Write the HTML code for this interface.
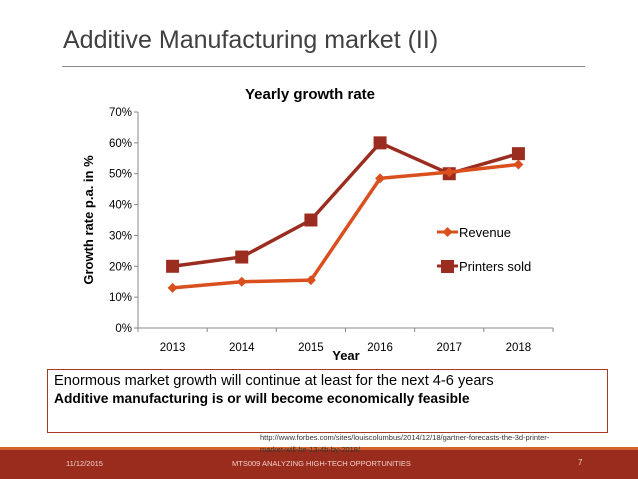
<!DOCTYPE html>
<html><head><meta charset="utf-8"><style>
html,body{margin:0;padding:0;background:#fff;}
body{width:638px;height:479px;position:relative;overflow:hidden;font-family:"Liberation Sans",sans-serif;}
.abs{position:absolute;}
</style></head><body>
<div class="abs" style="left:63px;top:26px;font-size:25px;color:#404040;letter-spacing:0px;white-space:nowrap;">Additive Manufacturing market (II)</div>
<div class="abs" style="left:62px;top:66px;width:523px;height:1px;background:#888;"></div>

<svg class="abs" style="left:0;top:0" width="638" height="479">
  <text x="310" y="99" text-anchor="middle" font-size="15" font-weight="bold" fill="#000" font-family="Liberation Sans">Yearly growth rate</text>
  <g id="axes"></g>
  <g id="marks"></g>
  <text transform="translate(93,220) rotate(-90)" text-anchor="middle" font-size="13" font-weight="bold" font-family="Liberation Sans">Growth rate p.a. in %</text>
  <text x="346" y="360" text-anchor="middle" font-size="13" font-weight="bold" font-family="Liberation Sans">Year</text>
  <g>
    <g>
      <line x1="437" y1="232" x2="458" y2="232" stroke="#d9501e" stroke-width="3"/>
      <path d="M447.5 227 L452.5 232 L447.5 237 L442.5 232 Z" fill="#d9501e"/>
      <text x="459" y="237" font-size="13" font-family="Liberation Sans">Revenue</text>
    </g>
    <g>
      <line x1="437" y1="266" x2="458" y2="266" stroke="#9b2d20" stroke-width="3"/>
      <rect x="441" y="260" width="13" height="13" fill="#9b2d20"/>
      <text x="459" y="271" font-size="13" font-family="Liberation Sans">Printers sold</text>
    </g>
  </g>
</svg>

<div class="abs" style="left:47px;top:369px;width:559px;height:62px;border:1px solid #a33a2a;"></div>
<div class="abs" style="left:54px;top:373px;font-size:14.6px;white-space:nowrap;">Enormous market growth will continue at least for the next 4-6 years</div>
<div class="abs" style="left:54px;top:391px;font-size:13.8px;font-weight:bold;white-space:nowrap;">Additive manufacturing is or will become economically feasible</div>
<div class="abs" style="left:0;top:447px;width:638px;height:3px;background:#d4622f;"></div>
<div class="abs" style="left:0;top:450px;width:638px;height:29px;background:#9a2c1e;"></div>
<div class="abs" style="left:260px;top:432px;font-size:7.5px;line-height:12px;color:#333;width:350px;z-index:2;">http://www.forbes.com/sites/louiscolumbus/2014/12/18/gartner-forecasts-the-3d-printer-<br>market-will-be-13-4b-by-2018/</div>
<div class="abs" style="left:66px;top:459px;font-size:7.5px;color:#f0d0c8;">11/12/2015</div>
<div class="abs" style="left:232px;top:459px;font-size:7.5px;color:#f0d0c8;white-space:nowrap;">MTS009 ANALYZING HIGH-TECH OPPORTUNITIES</div>
<div class="abs" style="left:578px;top:458px;font-size:8px;color:#f0d0c8;">7</div>

<script>
const categories = ["2013","2014","2015","2016","2017","2018"];
const revenue = [13, 15, 15.5, 48.5, 50.5, 53];
const printersSold = [20, 23, 35, 60, 50, 56.5];
const yTicks = [0,10,20,30,40,50,60,70];

const NS = "http://www.w3.org/2000/svg";
const x0 = 138, x1 = 553, yB = 328, yT = 112;
const xBand = (x1 - x0) / categories.length;
const xs = i => x0 + xBand * (i + 0.5);
const ys = v => yB - (v / 70) * (yB - yT);
const axes = document.getElementById('axes');
const marks = document.getElementById('marks');
function el(tag, attrs, parent){const e=document.createElementNS(NS,tag);for(const k in attrs)e.setAttribute(k,attrs[k]);parent.appendChild(e);return e;}

const yAxis = el('line',{x1:x0,y1:yT,x2:x0,y2:yB,stroke:'#888','stroke-width':1},axes);


const xAxis = el('line',{x1:x0,y1:yB,x2:x1,y2:yB,stroke:'#888','stroke-width':1},axes);


yTicks.forEach(t=>{
  el('line',{x1:x0-4,y1:ys(t),x2:x0,y2:ys(t),stroke:'#888'},axes);
  const tx = el('text',{x:x0-6,y:ys(t)+4,'text-anchor':'end','font-size':11.5,'font-family':'Liberation Sans'},axes);
  tx.textContent = t + '%';
  
  
});
for(let i=0;i<=categories.length;i++){
  el('line',{x1:x0+xBand*i,y1:yB,x2:x0+xBand*i,y2:yB+4,stroke:'#888'},axes);
}
categories.forEach((c,i)=>{
  const tx = el('text',{x:xs(i),y:yB+23,'text-anchor':'middle','font-size':11.5,'font-family':'Liberation Sans'},axes);
  tx.textContent = c;
  
  
});

function series(vals,color,shape,name){
  const pts = vals.map((v,i)=>xs(i)+','+ys(v)).join(' ');
  const pl = el('polyline',{points:pts,fill:'none',stroke:color,'stroke-width':3.5,'stroke-linejoin':'round'},marks);
  
  
  vals.forEach((v,i)=>{
    const cx=xs(i), cy=ys(v);
    let m;
    if(shape==='square'){ m = el('rect',{x:cx-6.5,y:cy-6.5,width:13,height:13,fill:color},marks); }
    else { m = el('path',{d:`M${cx} ${cy-5} L${cx+5} ${cy} L${cx} ${cy+5} L${cx-5} ${cy} Z`,fill:color},marks); }
    
    
  });
}
series(printersSold,'#9b2d20','square','printers-sold');
series(revenue,'#d9501e','diamond','revenue');
</script>
</body></html>
